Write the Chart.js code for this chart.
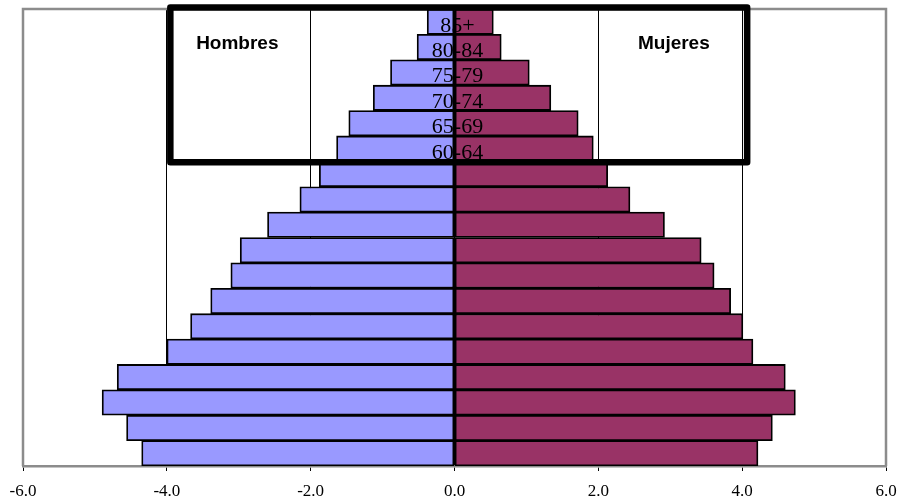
<!DOCTYPE html>
<html>
<head>
<meta charset="utf-8">
<script src="https://cdn.jsdelivr.net/npm/chart.js@4/dist/chart.umd.min.js"></script>
<style>
  html, body { margin: 0; padding: 0; background: #fff; }
  #wrap { width: 903px; height: 502px; position: relative; }
</style>
</head>
<body>
<div id="wrap"><canvas id="c"></canvas></div>
<script>
// ---- data ----
const ages = ['0-4','5-9','10-14','15-19','20-24','25-29','30-34','35-39','40-44','45-49','50-54','55-59','60-64','65-69','70-74','75-79','80-84','85+'];
const hombres = [4.35, 4.56, 4.90, 4.69, 4.00, 3.67, 3.39, 3.11, 2.98, 2.60, 2.15, 1.88, 1.64, 1.47, 1.13, 0.89, 0.52, 0.38];
const mujeres = [4.22, 4.42, 4.74, 4.60, 4.15, 4.01, 3.84, 3.61, 3.43, 2.92, 2.44, 2.13, 1.93, 1.72, 1.34, 1.04, 0.65, 0.54];
const xTickValues = [-6, -4, -2, 0, 2, 4, 6];
const shownAgeLabels = ['60-64','65-69','70-74','75-79','80-84','85+'];
const seriesNames = ['Hombres', 'Mujeres'];

const overlay = {
  id: 'overlay',
  beforeDatasetsDraw(chart) {
    const ctx = chart.ctx, a = chart.chartArea;
    ctx.save();
    ctx.strokeStyle = '#8c8c8c';
    ctx.lineWidth = 2.5;
    ctx.beginPath();
    ctx.moveTo(a.left, a.bottom);
    ctx.lineTo(a.left, a.top);
    ctx.lineTo(a.right, a.top);
    ctx.lineTo(a.right, a.bottom);
    ctx.stroke();
    ctx.restore();
  },
  afterDatasetsDraw(chart) {
    const ctx = chart.ctx, a = chart.chartArea;
    const xs = chart.scales.x, ys = chart.scales.y;
    ctx.save();
    // age labels centred on the zero line
    ctx.font = '22px "Liberation Serif", "Times New Roman", serif';
    ctx.fillStyle = '#000';
    ctx.textAlign = 'center';
    ctx.textBaseline = 'alphabetic';
    const x0 = xs.getPixelForValue(0) + 3;
    ages.forEach((lab, i) => {
      if (shownAgeLabels.includes(lab)) {
        ctx.fillText(lab, x0, ys.getPixelForValue(i) + 10);
      }
    });
    // framed box around the upper age groups
    const lowIdx = ages.indexOf(shownAgeLabels[0]);
    const boxBottom = (ys.getPixelForValue(lowIdx) + ys.getPixelForValue(lowIdx - 1)) / 2 + 1;
    const boxLeft = xs.getPixelForValue(-4) + 3.5;
    const boxRight = xs.getPixelForValue(4) + 5;
    const boxTop = a.top - 1.5;
    ctx.lineWidth = 6.5;
    ctx.strokeStyle = '#000';
    ctx.lineJoin = 'round';
    ctx.strokeRect(boxLeft, boxTop, boxRight - boxLeft, boxBottom - boxTop);
    // series names
    ctx.font = 'bold 19px "Liberation Sans", Arial, sans-serif';
    ctx.textAlign = 'center';
    ctx.fillText(seriesNames[0], xs.getPixelForValue(-3.02), a.top + 40);
    ctx.fillText(seriesNames[1], xs.getPixelForValue(3.05), a.top + 40);
    ctx.restore();
  }
};

new Chart(document.getElementById('c'), {
  type: 'bar',
  data: {
    labels: ages,
    datasets: [
      { label: seriesNames[0], data: hombres.map(v => -v), backgroundColor: '#9999ff',
        borderColor: '#000', borderWidth: 1.8, borderSkipped: false,
        categoryPercentage: 1, barPercentage: 1 },
      { label: seriesNames[1], data: mujeres, backgroundColor: '#993366',
        borderColor: '#000', borderWidth: 1.8, borderSkipped: false,
        categoryPercentage: 1, barPercentage: 1 }
    ]
  },
  options: {
    indexAxis: 'y',
    responsive: true,
    maintainAspectRatio: false,
    animation: false,
    devicePixelRatio: 1,
    layout: { padding: { left: 23, right: 17, top: 9, bottom: 0 } },
    plugins: { legend: { display: false }, tooltip: { enabled: false } },
    scales: {
      x: {
        type: 'linear',
        stacked: true,
        min: -6, max: 6,
        afterBuildTicks(scale) { scale.ticks = xTickValues.map(v => ({ value: v })); },
        afterFit(scale) { scale.height = 36; scale.paddingLeft = 0; scale.paddingRight = 0; },
        ticks: {
          callback: v => Number(v).toFixed(1),
          color: '#000',
          padding: 10,
          maxRotation: 0,
          font: { family: '"Liberation Serif", "Times New Roman", serif', size: 17 }
        },
        grid: {
          color: ctx => {
            const v = ctx.tick ? ctx.tick.value : 0;
            return (v === -6 || v === 6) ? 'rgba(0,0,0,0)' : '#000';
          },
          lineWidth: 1,
          tickColor: '#000',
          tickLength: 5,
          drawTicks: true
        },
        border: { display: true, color: '#8c8c8c', width: 2.5 }
      },
      y: {
        type: 'category',
        stacked: true,
        reverse: true,
        display: false
      }
    }
  },
  plugins: [overlay]
});
</script>
</body>
</html>
